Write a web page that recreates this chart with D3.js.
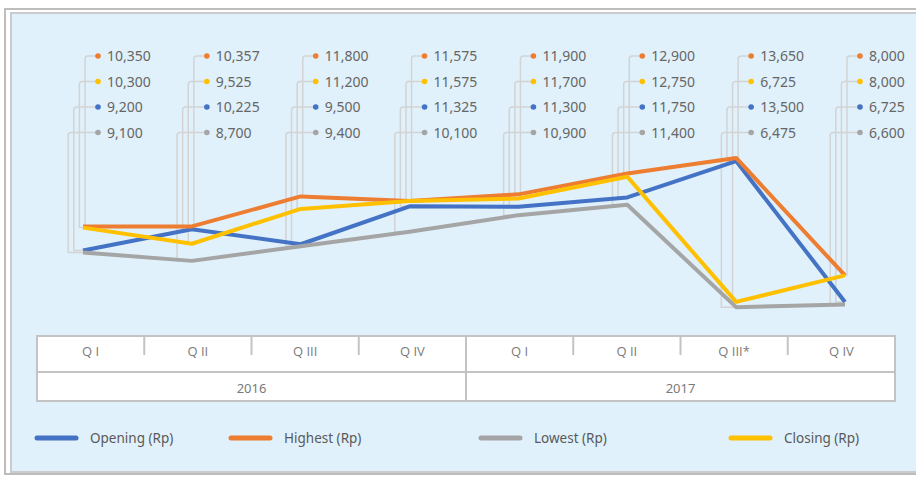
<!DOCTYPE html>
<html lang="en">
  <head>
    <meta charset="UTF-8" />
    <title>Share price</title>
    <style>
      body {
        margin: 0;
        background: #fff;
      }
      svg text {
        font-family: "Noto Sans", sans-serif;
      }
      svg text.cat {
        font-family: "Open Sans", sans-serif;
      }
    </style>
  </head>
  <body>
    <div class="chart"></div>

    <script src="https://d3js.org/d3.v7.min.js"></script>

    <script>
      // data
      const quarters = ["Q I", "Q II", "Q III", "Q IV", "Q I", "Q II", "Q III*", "Q IV"];
      const years = ["2016", "2017"];
      const opening = [9200, 10225, 9500, 11325, 11300, 11750, 13500, 6725];
      const highest = [10350, 10357, 11800, 11575, 11900, 12900, 13650, 8000];
      const lowest = [9100, 8700, 9400, 10100, 10900, 11400, 6475, 6600];
      const closing = [10300, 9525, 11200, 11575, 11700, 12750, 6725, 8000];

      const series = [
        { name: "Opening (Rp)", values: opening, color: "#4472c4" },
        { name: "Highest (Rp)", values: highest, color: "#ed7d31" },
        { name: "Lowest (Rp)", values: lowest, color: "#a5a5a5" },
        { name: "Closing (Rp)", values: closing, color: "#ffc000" },
      ];
      // label stack order, top to bottom
      const labelOrder = [1, 3, 0, 2];

      const w = 916;
      const h = 478;

      const svg = d3
        .select(".chart")
        .append("svg")
        .attr("width", w)
        .attr("height", h);

      // frame
      svg
        .append("rect")
        .attr("x", 5)
        .attr("y", 9)
        .attr("width", 940)
        .attr("height", 465)
        .attr("fill", "#fff")
        .attr("stroke", "#bdbdbd")
        .attr("stroke-width", 2);
      svg
        .append("rect")
        .attr("x", 11)
        .attr("y", 13)
        .attr("width", 940)
        .attr("height", 459)
        .attr("fill", "#e0f1fb")
        .attr("stroke", "#cbcbcb")
        .attr("stroke-width", 2);

      // scales
      const xScale = d3.scalePoint().domain(d3.range(8)).range([83, 845]);
      const yScale = d3.scaleLinear().domain([6000, 14000]).range([317, 150.7]);
      const colScale = d3.scaleBand().domain(d3.range(8)).range([37, 895]);

      // category table
      const table = svg.append("g");
      const tTop = 336,
        tMid = 372,
        tBot = 401;
      table
        .append("rect")
        .attr("x", colScale(0))
        .attr("y", tTop)
        .attr("width", colScale.bandwidth() * 8)
        .attr("height", tBot - tTop)
        .attr("fill", "#fff")
        .attr("stroke", "#c3c3c3")
        .attr("stroke-width", 2);
      table
        .append("line")
        .attr("x1", colScale(0))
        .attr("x2", colScale(7) + colScale.bandwidth())
        .attr("y1", tMid)
        .attr("y2", tMid)
        .attr("stroke", "#c3c3c3")
        .attr("stroke-width", 2);
      table
        .selectAll(".sep")
        .data(d3.range(1, 8))
        .enter()
        .append("line")
        .attr("x1", (d) => colScale(d))
        .attr("x2", (d) => colScale(d))
        .attr("y1", tTop)
        .attr("y2", (d) => (d === 4 ? tBot : tTop + 19))
        .attr("stroke", "#c3c3c3")
        .attr("stroke-width", 2);
      table
        .selectAll(".q")
        .data(quarters)
        .enter()
        .append("text")
        .attr("class", "cat")
        .attr("x", (d, i) => colScale(i) + colScale.bandwidth() / 2)
        .attr("y", 356)
        .attr("text-anchor", "middle")
        .attr("font-size", 13)
        .attr("fill", "#7a7a7a")
        .text((d) => d);
      table
        .selectAll(".yr")
        .data(years)
        .enter()
        .append("text")
        .attr("x", (d, i) => colScale(i * 4) + colScale.bandwidth() * 2)
        .attr("y", 393)
        .attr("text-anchor", "middle")
        .attr("font-size", 13)
        .attr("fill", "#7a7a7a")
        .text((d) => d);

      // leader lines + labels
      const labelY = (k) => 56 + k * 25.5;
      const leaders = svg.append("g");
      const labels = svg.append("g");
      d3.range(8).forEach((i) => {
        const dotX = xScale(i) + 15;
        labelOrder.forEach((s, k) => {
          const vx = dotX - 13 - 5.6 * k;
          const ly = labelY(k);
          const py = yScale(series[s].values[i]);
          const px = xScale(i);
          leaders
            .append("path")
            .attr(
              "d",
              `M${dotX},${ly}H${vx + 3}Q${vx},${ly} ${vx},${ly + 3}V${py}H${px}`
            )
            .attr("fill", "none")
            .attr("stroke", "#d3d3d3")
            .attr("stroke-width", 1.5);
          labels
            .append("circle")
            .attr("cx", dotX)
            .attr("cy", ly)
            .attr("r", 2.8)
            .attr("fill", series[s].color);
          labels
            .append("text")
            .attr("x", dotX + 9)
            .attr("y", ly + 5)
            .attr("font-size", 14)
            .attr("fill", "#666")
            .text(d3.format(",")(series[s].values[i]));
        });
      });

      // lines
      const line = d3
        .line()
        .x((d, i) => xScale(i))
        .y((d) => yScale(d));
      svg
        .append("g")
        .selectAll("path")
        .data(series)
        .enter()
        .append("path")
        .attr("d", (d) => line(d.values))
        .attr("fill", "none")
        .attr("stroke", (d) => d.color)
        .attr("stroke-width", 4)
        .attr("stroke-linejoin", "round");

      // legend
      const legendX = [37, 231, 481, 731];
      const legend = svg
        .append("g")
        .selectAll("g")
        .data(series)
        .enter()
        .append("g")
        .attr("transform", (d, i) => `translate(${legendX[i]}, 438)`);
      legend
        .append("line")
        .attr("x1", 0)
        .attr("x2", 39)
        .attr("stroke", (d) => d.color)
        .attr("stroke-width", 5)
        .attr("stroke-linecap", "round");
      legend
        .append("text")
        .attr("x", 53)
        .attr("y", 5)
        .attr("font-size", 13.5)
        .attr("fill", "#595959")
        .text((d) => d.name);
    </script>
  </body>
</html>
